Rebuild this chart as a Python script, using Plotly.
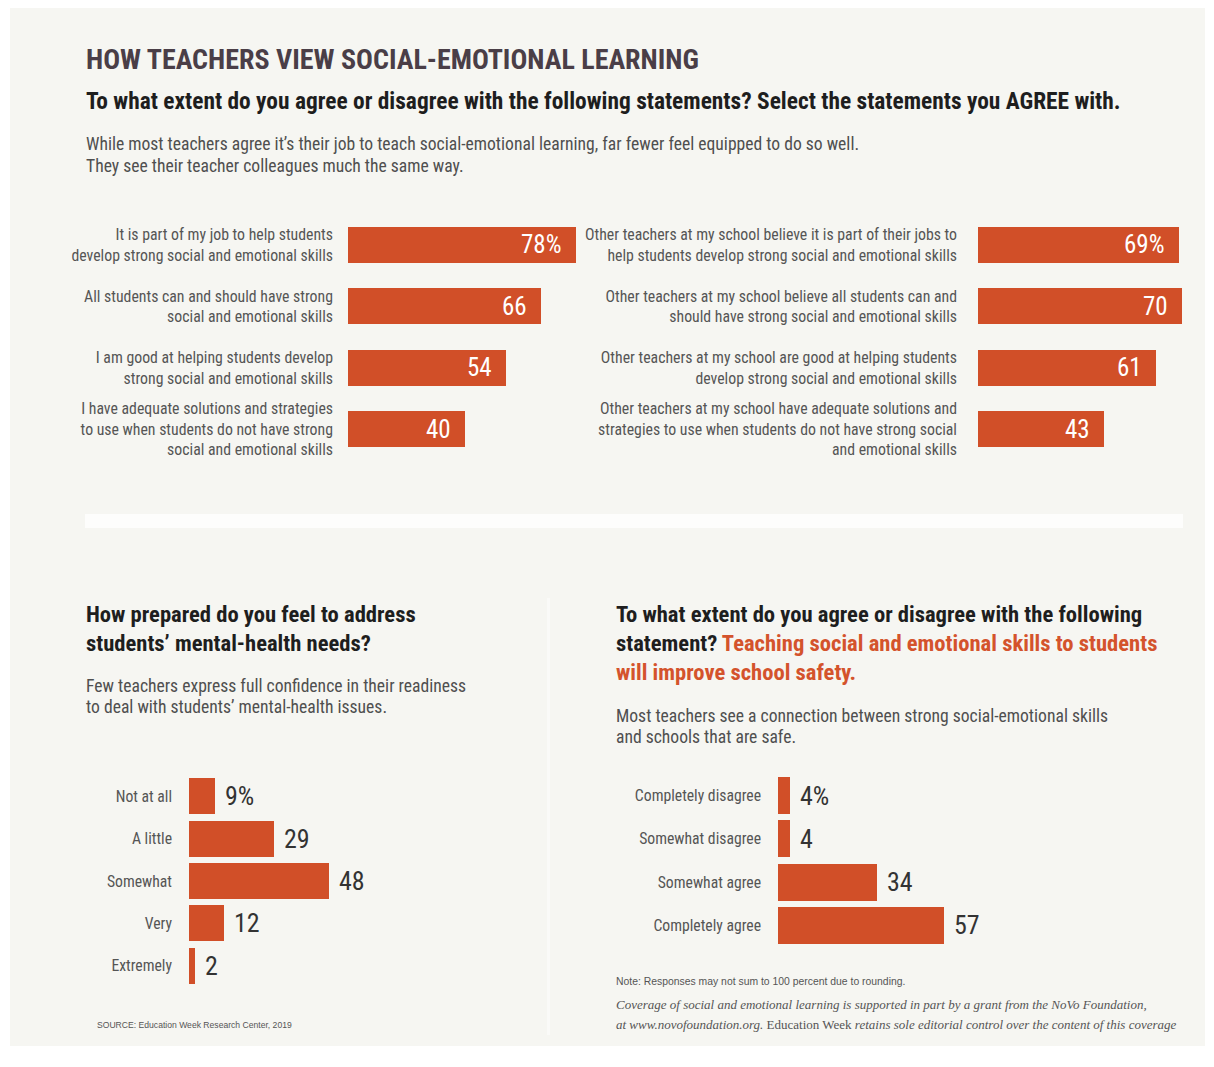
import plotly.graph_objects as go

W, H = 1214, 1067

# ---------------- data ----------------
self_labels = [
    "It is part of my job to help students<br>develop strong social and emotional skills",
    "All students can and should have strong<br>social and emotional skills",
    "I am good at helping students develop<br>strong social and emotional skills",
    "I have adequate solutions and strategies<br>to use when students do not have strong<br>social and emotional skills",
]
self_values = [78, 66, 54, 40]

other_labels = [
    "Other teachers at my school believe it is part of their jobs to<br>help students develop strong social and emotional skills",
    "Other teachers at my school believe all students can and<br>should have strong social and emotional skills",
    "Other teachers at my school are good at helping students<br>develop strong social and emotional skills",
    "Other teachers at my school have adequate solutions and<br>strategies to use when students do not have strong social<br>and emotional skills",
]
other_values = [69, 70, 61, 43]

prep_labels = ["Not at all", "A little", "Somewhat", "Very", "Extremely"]
prep_values = [9, 29, 48, 12, 2]

safety_labels = ["Completely disagree", "Somewhat disagree", "Somewhat agree", "Completely agree"]
safety_values = [4, 4, 34, 57]

# ---------------- style ----------------
BAR = "#d14f28"
ORANGE = "#d4532c"
TITLE_C = "#4a3e47"
DARK = "#1e1e1e"
GREY = "#4f4f4f"
LABEL_C = "#555555"
BG = "#f6f6f2"
COND = "Roboto Condensed, Liberation Sans Narrow, DejaVu Sans Condensed, Arial Narrow, sans-serif"
SANS = "Liberation Sans, Arial, sans-serif"
SERIF = "Liberation Serif, Times New Roman, serif"
SCALE = 2.92  # px per percentage point


def px(x):
    return x / W


def py(y):
    return 1 - y / H


def fmt(vals):
    return [f"{v}%" if i == 0 else f"{v}" for i, v in enumerate(vals)]


fig = go.Figure()

panels = [
    # labels, values, x-start px, x-range max, y-top px, y-bottom px, inside labels?, standoff
    (self_labels, self_values, 348, 80, 214, 460, True, 14),
    (other_labels, other_values, 978, 74, 214, 460, True, 20),
    (prep_labels, prep_values, 189, 60, 775, 987, False, 16),
    (safety_labels, safety_values, 778, 70, 774, 947, False, 16),
]

layout_axes = {}
annotations = []
for i, (labels, values, x0, xmax, ytop, ybot, inside, standoff) in enumerate(panels, start=1):
    xa = "x" if i == 1 else f"x{i}"
    ya = "y" if i == 1 else f"y{i}"
    gap = 0.41 if inside else 0.15
    fig.add_trace(go.Bar(
        x=values, y=labels, orientation="h", width=1 - gap,
        marker=dict(color=BAR, line=dict(width=0)),
        xaxis=xa, yaxis=ya, hoverinfo="skip", showlegend=False,
    ))
    layout_axes[f"xaxis{'' if i == 1 else i}"] = dict(
        domain=[px(x0), px(x0 + xmax * SCALE)], range=[0, xmax],
        visible=False, fixedrange=True, anchor=ya,
    )
    layout_axes[f"yaxis{'' if i == 1 else i}"] = dict(
        domain=[py(ybot), py(ytop)], autorange="reversed", type="category",
        showgrid=False, zeroline=False, showline=False, ticks="",
        ticklabelstandoff=standoff,
        tickfont=dict(family=COND, size=15.8 if inside else 15.7, color=LABEL_C),
        anchor=xa, fixedrange=True,
    )
    for lab, txt, v in zip(labels, fmt(values), values):
        if inside:
            annotations.append(dict(
                x=v, y=lab, xref=xa, yref=ya, text=txt, showarrow=False,
                xanchor="right", yanchor="middle", xshift=-12,
                font=dict(family=COND, size=25, color="white"),
            ))
        else:
            annotations.append(dict(
                x=v, y=lab, xref=xa, yref=ya, text=txt, showarrow=False,
                xanchor="left", yanchor="middle", xshift=8,
                font=dict(family=COND, size=26, color="#333333"),
            ))


def text(x, y, s, size, color, family=COND, weight="normal", style="normal"):
    annotations.append(dict(
        x=px(x), y=py(y), xref="paper", yref="paper", text=s, showarrow=False,
        xanchor="left", yanchor="middle", align="left",
        font=dict(family=family, size=size, color=color, weight=weight, style=style),
    ))


text(84, 60, "HOW TEACHERS VIEW SOCIAL-EMOTIONAL LEARNING", 28, TITLE_C, weight="bold")
text(84, 101, "To what extent do you agree or disagree with the following statements? Select the statements you AGREE with.",
     23.4, DARK, weight="bold")
text(84, 144, "While most teachers agree it’s their job to teach social-emotional learning, far fewer feel equipped to do so well.",
     17.6, GREY)
text(84, 166, "They see their teacher colleagues much the same way.", 17.6, GREY)

text(84, 614, "How prepared do you feel to address", 22.6, DARK, weight="bold")
text(84, 643, "students’ mental-health needs?", 22.6, DARK, weight="bold")
text(84, 686, "Few teachers express full confidence in their readiness", 17.6, GREY)
text(84, 707, "to deal with students’ mental-health issues.", 17.6, GREY)

text(614, 614, "To what extent do you agree or disagree with the following", 22.6, DARK, weight="bold")
text(614, 643, f"statement? <span style='color:{ORANGE}'>Teaching social and emotional skills to students</span>",
     22.6, DARK, weight="bold")
text(614, 672, "will improve school safety.", 22.6, ORANGE, weight="bold")
text(614, 716, "Most teachers see a connection between strong social-emotional skills", 17.6, GREY)
text(614, 737, "and schools that are safe.", 17.6, GREY)

text(614, 981, "Note: Responses may not sum to 100 percent due to rounding.", 10.4, "#555555", family=SANS)
text(614, 1004, "Coverage of social and emotional learning is supported in part by a grant from the NoVo Foundation,",
     13, "#555555", family=SERIF, style="italic")
text(614, 1024, "at www.novofoundation.org. <span style='font-style:normal'>Education Week</span> retains sole editorial control over the content of this coverage",
     13, "#555555", family=SERIF, style="italic")
text(95, 1025, "SOURCE: Education Week Research Center, 2019", 8.6, "#555555", family=SANS)

shapes = [
    dict(type="rect", xref="paper", yref="paper", x0=px(10), x1=px(1205), y0=py(1046), y1=py(8),
         fillcolor=BG, line=dict(width=0), layer="below"),
    dict(type="rect", xref="paper", yref="paper", x0=px(85), x1=px(1183), y0=py(528), y1=py(514),
         fillcolor="#fdfdfc", line=dict(width=0), layer="below"),
    dict(type="rect", xref="paper", yref="paper", x0=px(547), x1=px(550), y0=py(1035), y1=py(598),
         fillcolor="#fafaf8", line=dict(width=0), layer="below"),
]

fig.update_layout(
    width=W, height=H, autosize=False,
    margin=dict(l=0, r=0, t=0, b=0, pad=0),
    paper_bgcolor="#ffffff", plot_bgcolor="rgba(0,0,0,0)",
    bargap=0, showlegend=False,
    annotations=annotations, shapes=shapes,
    **layout_axes,
)

fig.write_html("out.html", config={"displayModeBar": False})
